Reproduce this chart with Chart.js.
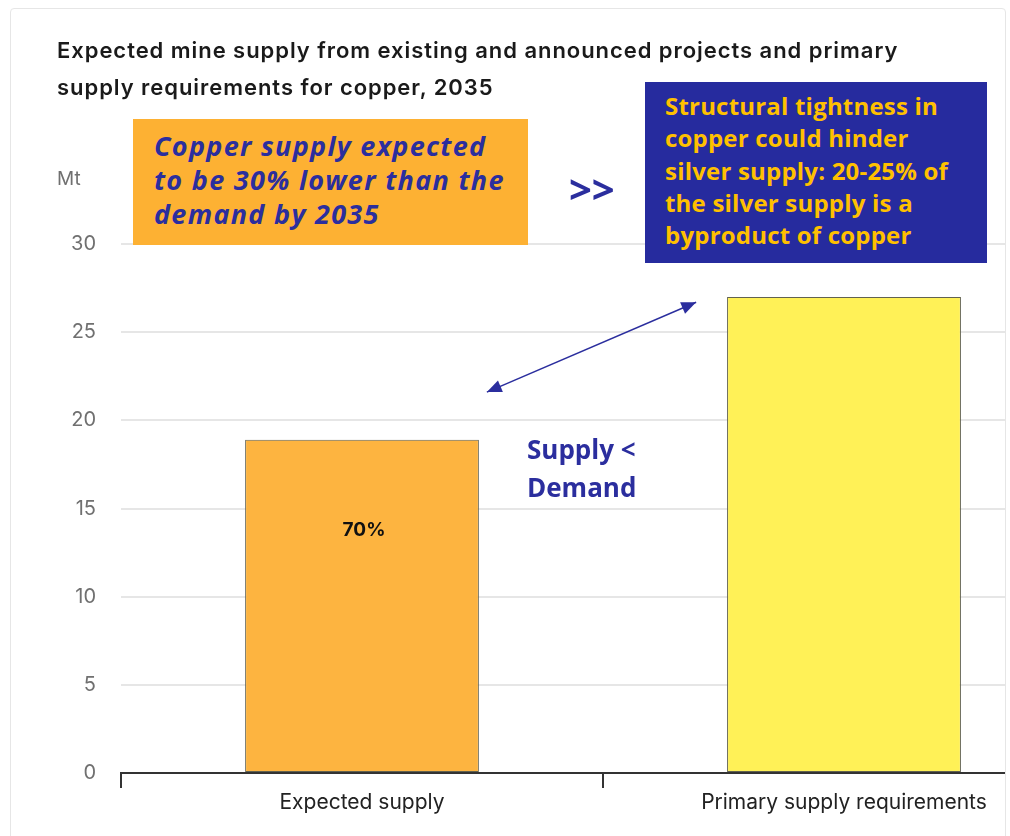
<!DOCTYPE html>
<html lang="en">
<head>
    <meta charset="UTF-8">
    <title>Copper supply vs requirements, 2035</title>
    <style>
        body {
            margin: 0;
            padding: 0;
            background-color: #ffffff;
            width: 1010px;
            height: 836px;
            overflow: hidden;
            position: relative;
            font-family: Inter, Roboto, Arial, sans-serif;
        }

        .card {
            position: absolute;
            left: 10px;
            top: 8px;
            width: 994px;
            height: 840px;
            border: 1px solid #e6e6e6;
            border-radius: 4px;
            overflow: hidden;
            background: #fff;
        }

        #chart {
            position: absolute;
            left: -11px;
            top: -9px;
        }

        .title {
            position: absolute;
            left: 46px;
            top: 23px;
            font-size: 22px;
            font-weight: 600;
            letter-spacing: 0.95px;
            line-height: 37px;
            color: #1a1a1a;
            width: 945px;
            white-space: nowrap;
        }

        .note {
            position: absolute;
            font-family: "Open Sans", Lato, sans-serif;
            font-weight: bold;
            white-space: nowrap;
        }

        .orange-box {
            left: 122px;
            top: 110px;
            width: 395px;
            height: 126px;
            background: #fdb133;
            color: #2b2e9e;
            font-style: italic;
            font-size: 27px;
            letter-spacing: 1.3px;
            line-height: 34px;
            padding: 10px 0 0 21px;
            box-sizing: border-box;
        }

        .arrows {
            left: 558px;
            top: 152px;
            font-size: 40px;
            color: #2b2e9e;
        }

        .blue-box {
            left: 634px;
            top: 73px;
            width: 342px;
            height: 181px;
            background: #262b9e;
            color: #ffc000;
            font-size: 24px;
            letter-spacing: 0.2px;
            line-height: 32.3px;
            padding: 8px 0 0 20px;
            box-sizing: border-box;
        }

        .gap-note {
            left: 516px;
            top: 421px;
            font-size: 26px;
            line-height: 38px;
            color: #2b2e9e;
        }
    </style>
    <script src="https://cdn.jsdelivr.net/npm/chart.js"></script>
</head>
<body>
    <div class="card">
        <canvas id="chart" width="1100" height="845"></canvas>
        <div class="title">Expected mine supply from existing and announced projects and primary<br>supply requirements for copper, 2035</div>
        <div class="note orange-box">Copper supply expected<br>to be 30% lower than the<br>demand by 2035</div>
        <div class="note arrows">&gt;&gt;</div>
        <div class="note blue-box">Structural tightness in<br>copper could hinder<br>silver supply: 20-25% of<br>the silver supply is a<br>byproduct of copper</div>
        <div class="note gap-note">Supply &lt;<br>Demand</div>
    </div>

    <script>
        const categories = ['Expected supply', 'Primary supply requirements'];
        const supplyValues = [18.9, 27.0];
        const barLabels = ['70%', ''];
        const yTicks = [0, 5, 10, 15, 20, 25, 30];
        const unitLabel = 'Mt';

        const barColors = ['#fdb440', '#fff157'];
        const navy = '#2b2e9e';

        // extra drawing: unit label, value label in bar, double-headed arrow
        const extras = {
            id: 'extras',
            afterDatasetsDraw(chart) {
                const ctx = chart.ctx;
                const y = chart.scales.y;
                const bars = chart.getDatasetMeta(0).data;

                ctx.save();
                ctx.font = '19px Inter, Roboto, Arial, sans-serif';
                ctx.fillStyle = '#707070';
                ctx.textAlign = 'left';
                ctx.textBaseline = 'middle';
                ctx.fillText(unitLabel, 57, 179);

                // label inside first bar
                ctx.font = 'bold 19px Inter, Roboto, Arial, sans-serif';
                ctx.fillStyle = '#111';
                ctx.textAlign = 'center';
                bars.forEach((b, i) => {
                    if (barLabels[i]) ctx.fillText(barLabels[i], b.x + 2, b.y + 91);
                });

                // arrow between the bars
                const x1 = bars[0].x + bars[0].width / 2 + 8;
                const y1 = y.getPixelForValue(21.6);
                const x2 = bars[1].x - bars[1].width / 2 - 31;
                const y2 = y.getPixelForValue(26.7);
                ctx.strokeStyle = navy;
                ctx.fillStyle = navy;
                ctx.lineWidth = 1.5;
                ctx.beginPath();
                ctx.moveTo(x1, y1);
                ctx.lineTo(x2, y2);
                ctx.stroke();
                const head = (px, py, ang) => {
                    ctx.beginPath();
                    ctx.moveTo(px, py);
                    ctx.lineTo(px - 16 * Math.cos(ang - 0.4), py - 16 * Math.sin(ang - 0.4));
                    ctx.lineTo(px - 16 * Math.cos(ang + 0.4), py - 16 * Math.sin(ang + 0.4));
                    ctx.closePath();
                    ctx.fill();
                };
                const a = Math.atan2(y2 - y1, x2 - x1);
                head(x2, y2, a);
                head(x1, y1, a + Math.PI);
                ctx.restore();
            }
        };

        const ctx = document.getElementById('chart').getContext('2d');
        new Chart(ctx, {
            type: 'bar',
            data: {
                labels: categories,
                datasets: [{
                    data: supplyValues,
                    backgroundColor: barColors,
                    borderColor: '#62624f',
                    borderWidth: 1,
                    borderSkipped: false,
                    barPercentage: 0.485,
                    categoryPercentage: 1
                }]
            },
            options: {
                responsive: false,
                animation: false,
                devicePixelRatio: 1,
                layout: {
                    padding: { top: 244, right: 15, left: 0, bottom: 0 }
                },
                plugins: {
                    legend: { display: false },
                    tooltip: { enabled: false }
                },
                scales: {
                    x: {
                        afterFit(scale) { scale.height = 845 - 773; },
                        border: { display: true, color: '#333', width: 2 },
                        grid: {
                            display: true,
                            offset: true,
                            drawOnChartArea: false,
                            drawTicks: true,
                            tickLength: 15,
                            color: '#333',
                            lineWidth: 2
                        },
                        ticks: {
                            color: '#222',
                            padding: 2,
                            font: { family: 'Inter, Roboto, Arial, sans-serif', size: 21 }
                        }
                    },
                    y: {
                        min: 0,
                        max: 30,
                        afterFit(scale) { scale.width = 121; },
                        afterBuildTicks(scale) {
                            scale.ticks = yTicks.map(v => ({ value: v }));
                        },
                        border: { display: false },
                        grid: {
                            color: '#e6e6e6',
                            lineWidth: 2,
                            drawTicks: false
                        },
                        ticks: {
                            color: '#707070',
                            padding: 25,
                            font: { family: 'Inter, Roboto, Arial, sans-serif', size: 20 }
                        }
                    }
                }
            },
            plugins: [extras]
        });
    </script>
</body>
</html>
